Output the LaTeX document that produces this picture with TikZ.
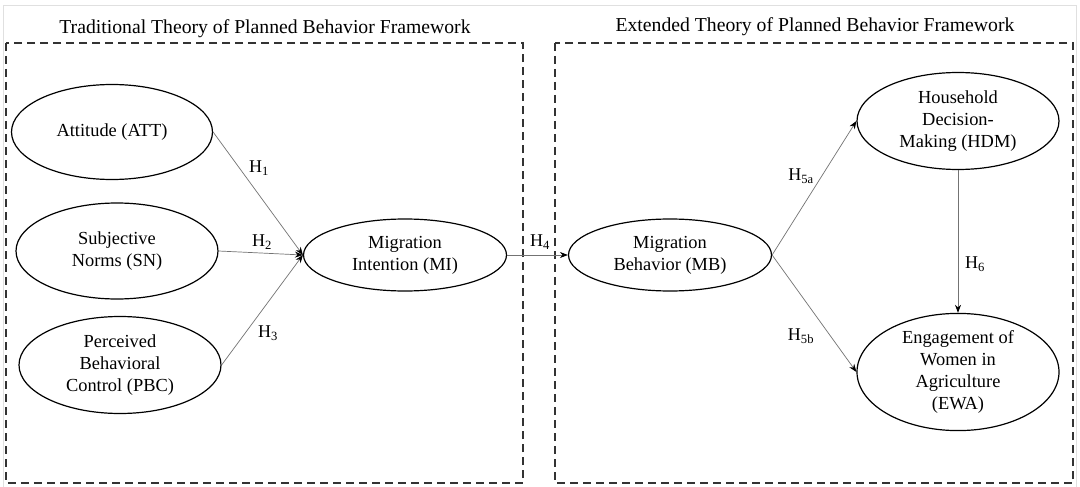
\documentclass[tikz,border=0pt]{standalone}
\usepackage{fontspec}
\setmainfont{Liberation Serif}
\usetikzlibrary{arrows.meta,shapes.geometric}
\begin{document}
\begin{tikzpicture}[x=1pt,y=-1pt,
  every node/.style={font=\fontsize{18.4}{22}\selectfont},
  var/.style={draw=black, line width=1.2pt, ellipse, minimum width=#1, inner sep=0pt, align=center},
  frame/.style={draw=black!80, line width=1.3pt, dash pattern=on 8pt off 5pt},
  link/.style={draw=black!55, line width=0.7pt, -{Stealth[length=8pt,width=6pt,color=black]}},
  hlab/.style={font=\fontsize{18}{20}\selectfont, inner sep=1pt},
  title/.style={font=\fontsize{19.7}{24}\selectfont, inner sep=0pt}
]
\useasboundingbox (0,0) rectangle (1080,487);
\fill[white] (0,0) rectangle (1080,487);
\draw[black!12, line width=0.8pt] (3,5) rectangle (1076,492);

% frames
\draw[frame] (6,43) rectangle (523,483);
\draw[frame] (555,43) rectangle (1073,483);
\node[title] (t1) at (265,29) {Traditional Theory of Planned Behavior Framework};
\node[title] (t2) at (815,27) {Extended Theory of Planned Behavior Framework};

% variables
\node[var, minimum width=201pt, minimum height=95pt] (att) at (112,132) {Attitude (ATT)};
\node[var, minimum width=202pt, minimum height=96pt] (sn) at (117,251) {Subjective\\Norms (SN)};
\node[var, minimum width=202pt, minimum height=97pt] (pbc) at (120,365) {Perceived\\Behavioral\\Control (PBC)};
\node[var, minimum width=203pt, minimum height=72pt] (mi) at (405,255) {Migration\\Intention (MI)};
\node[var, minimum width=203pt, minimum height=72pt] (mb) at (670,255) {Migration\\Behavior (MB)};
\node[var, minimum width=202pt, minimum height=97pt] (hdm) at (958,121) {Household\\Decision-\\Making (HDM)};
\node[var, minimum width=202pt, minimum height=99pt] (ewa) at (958,372) {Engagement of\\Women in\\Agriculture\\(EWA)};

% connectors
\draw[link] (att.east) -- (mi.west);
\draw[link] (sn.east) -- (mi.west);
\draw[link] (pbc.east) -- (mi.west);
\draw[link] (mi.east) -- (mb.west);
\draw[link] (mb.east) -- (hdm.west);
\draw[link] (mb.east) -- (ewa.west);
\draw[link] (hdm.south) -- (ewa.north);

% labels
\node[hlab] (h1) at (259,168) {H\textsubscript{1}};
\node[hlab] (h2) at (262,242) {H\textsubscript{2}};
\node[hlab] (h3) at (268,333) {H\textsubscript{3}};
\node[hlab] (h4) at (540,242) {H\textsubscript{4}};
\node[hlab] (h5a) at (801,176) {H\textsubscript{5a}};
\node[hlab] (h5b) at (801,336) {H\textsubscript{5b}};
\node[hlab] (h6) at (975,264) {H\textsubscript{6}};
\end{tikzpicture}
\end{document}
